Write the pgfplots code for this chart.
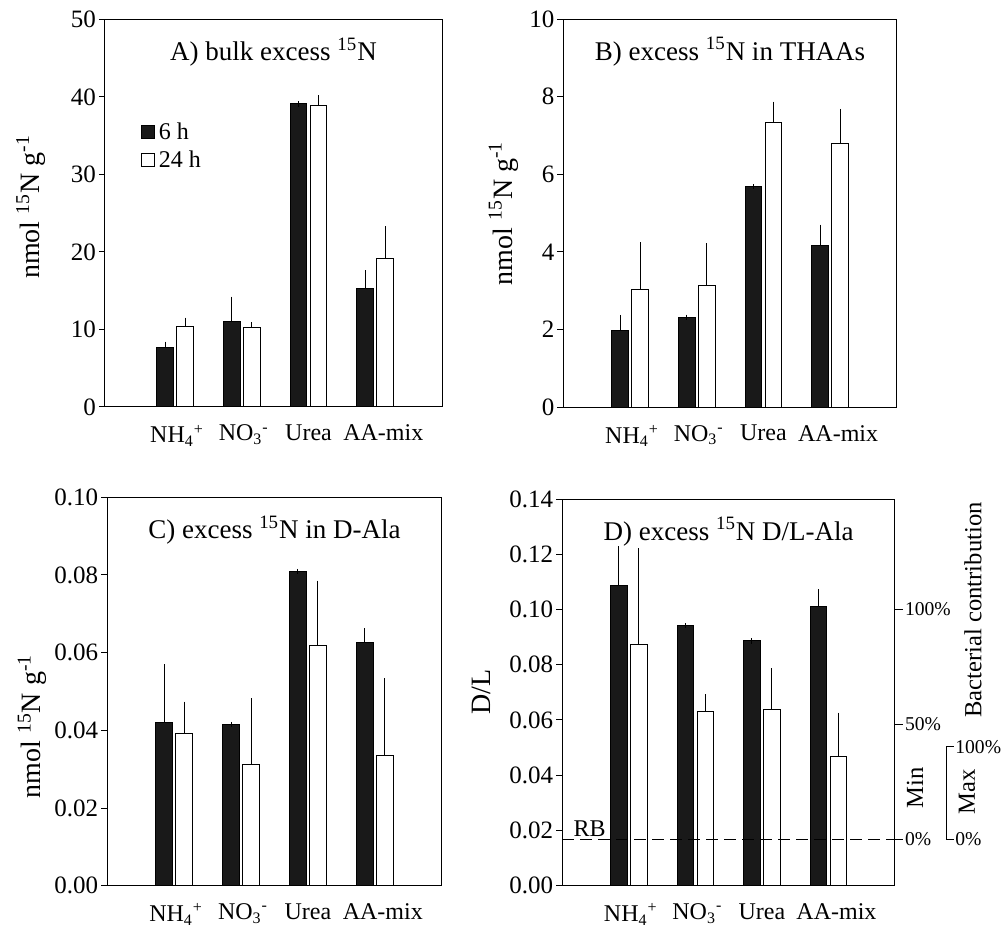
\documentclass[border=0pt]{standalone}
\usepackage{pgfplots}
\pgfplotsset{compat=1.18}
\usepackage{fontspec}
\setmainfont{Liberation Serif}

\newcommand{\nh}{\hspace{2pt}NH\textsubscript{4}\textsuperscript{+}}
\newcommand{\no}{\hspace{2pt}NO\textsubscript{3}\textsuperscript{-}}
\newcommand{\unit}{nmol \textsuperscript{15}N g\textsuperscript{-1}}

\tikzset{
  lab/.style={rotate=90, font=\fontsize{14}{16}\selectfont},
  side/.style={rotate=90, font=\fontsize{12.3}{14}\selectfont},
  pct/.style={font=\fontsize{9.8}{12}\selectfont},
}
\pgfplotsset{
  panel/.style={
    scale only axis,
    ybar, bar width=0.25,
    xmin=-1, xmax=4, ymin=0,
    xtick={0,1,2,3},
    xticklabels={\nh,\no,Urea,\hspace{8pt}AA-mix},
    x tick style={draw=none},
    xticklabel style={yshift=-2.5pt, font=\fontsize{12}{13}\selectfont},
    ytick pos=left, tick align=outside, major tick length=3pt,
    tick style={black, line width=0.5pt},
    yticklabel style={xshift=2pt, font=\fontsize{12.5}{14}\selectfont},
    /pgf/number format/assume math mode=true,
    axis line style={line width=0.5pt},
    clip=false,
    title style={at={(0.5,0.885)}, anchor=center, font=\fontsize{13.5}{15}\selectfont},
    error bars/y dir=plus, error bars/y explicit,
    error bars/error bar style={line width=0.5pt, black},
    error bars/error mark options={black, mark size=1.3pt, line width=0.5pt},
  },
  six/.style={fill=black!90, draw=black, line width=0.5pt, bar shift=-0.15},
  tfour/.style={fill=white, draw=black, line width=0.5pt, bar shift=0.15},
  twodec/.style={yticklabel style={/pgf/number format/fixed, /pgf/number format/fixed zerofill, /pgf/number format/precision=2}},
}

\begin{document}
\begin{tikzpicture}
\useasboundingbox (0,0) rectangle (501pt,464pt);

% A
\begin{axis}[panel, at={(52.5pt,260.5pt)}, anchor=south west,
  width=168.5pt, height=193.75pt, xmin=-1.05, ymax=50, ytick={0,10,...,50},
  title={A) bulk excess \textsuperscript{15}N},
  legend style={at={(0.105,0.745)}, anchor=north west, draw=none, fill=none,
    font=\fontsize{12}{13}\selectfont, row sep=0pt, inner sep=0pt},
  legend cell align=left,
  legend image code/.code={\draw[#1] (-1.5pt,-3.2pt) rectangle (5pt,3.3pt);},
]
\addplot[six] coordinates {(0,7.7) +- (0,0.4) (1,11.0) +- (0,2.9) (2,39.1) +- (0,0) (3,15.3) +- (0,2.0)};
\addplot[tfour] coordinates {(0,10.4) +- (0,0.8) (1,10.2) +- (0,0.4) (2,38.9) +- (0,1.0) (3,19.2) +- (0,3.8)};
\legend{6 h, 24 h}
\node[lab] at ([xshift=-37pt]rel axis cs:0,0.516) {\unit};
\end{axis}

% B
\begin{axis}[panel, at={(281.7pt,260.4pt)}, anchor=south west,
  width=166.7pt, height=194pt, ymax=10, ytick={0,2,...,10},
  title={B) excess \textsuperscript{15}N in THAAs},
]
\addplot[six] coordinates {(0,1.97) +- (0,0.34) (1,2.32) +- (0,0) (2,5.68) +- (0,0) (3,4.17) +- (0,0.47)};
\addplot[tfour] coordinates {(0,3.04) +- (0,1.14) (1,3.14) +- (0,1.02) (2,7.35) +- (0,0.46) (3,6.79) +- (0,0.83)};
\node[lab] at ([xshift=-30pt]rel axis cs:0,0.50) {\unit};
\end{axis}

% C
\begin{axis}[panel, twodec, at={(53.65pt,21.15pt)}, anchor=south west,
  width=167.2pt, height=194.2pt, ymax=0.1, ytick={0,0.02,...,0.1},
  title={C) excess \textsuperscript{15}N in D-Ala},
]
\addplot[six] coordinates {(0,0.0421) +- (0,0.0143) (1,0.0415) +- (0,0) (2,0.0809) +- (0,0) (3,0.0625) +- (0,0.0031)};
\addplot[tfour] coordinates {(0,0.0392) +- (0,0.0075) (1,0.0313) +- (0,0.0163) (2,0.0618) +- (0,0.0161) (3,0.0334) +- (0,0.0193)};
\node[lab] at ([xshift=-37.5pt]rel axis cs:0,0.41) {\unit};
\end{axis}

% D
\begin{axis}[panel, twodec, at={(281.15pt,21.15pt)}, anchor=south west,
  width=166.35pt, height=193.35pt, ymax=0.14, ytick={0,0.02,...,0.14},
  title={D) excess \textsuperscript{15}N D/L-Ala},
]
\addplot[six] coordinates {(0,0.1086) +- (0,0.0134) (1,0.0941) +- (0,0) (2,0.0886) +- (0,0) (3,0.1011) +- (0,0.0053)};
\addplot[tfour] coordinates {(0,0.0874) +- (0,0.0338) (1,0.0631) +- (0,0.0053) (2,0.0638) +- (0,0.0140) (3,0.0469) +- (0,0.0148)};
\node[lab] at ([xshift=-40.5pt]rel axis cs:0,0.50) {D/L};
\end{axis}

% D right-hand scale
\begin{axis}[scale only axis, at={(281.15pt,21.15pt)}, anchor=south west,
  width=166.35pt, height=193.35pt, xmin=-1, xmax=4, ymin=0, ymax=0.14,
  axis x line=none, axis y line*=right, clip=false,
  ytick={0.0168,0.0584,0.1}, yticklabels={0\%,50\%,100\%},
  tick align=outside, major tick length=4pt,
  tick style={black, line width=0.5pt},
  axis line style={line width=0.5pt},
  yticklabel style={xshift=-2.5pt, pct},
]
\addplot[black, line width=0.6pt, dash pattern=on 6pt off 3pt] coordinates {(-1,0.0168) (4,0.0168)};
\node[anchor=south west, inner sep=1pt, font=\fontsize{12}{13}\selectfont] at ([xshift=4.5pt]axis cs:-1,0.0168) {RB};
\draw[line width=0.5pt] ([xshift=29.5pt]axis cs:4,0.0168) -- ([xshift=26pt]axis cs:4,0.0168)
  -- ([xshift=26pt]axis cs:4,0.0503) -- ([xshift=29.5pt]axis cs:4,0.0503);
\node[anchor=west, inner sep=0.5pt, pct] at ([xshift=29.5pt]axis cs:4,0.0503) {100\%};
\node[anchor=west, inner sep=0.5pt, pct] at ([xshift=29.5pt]axis cs:4,0.0168) {0\%};
\node[side] at ([xshift=39pt]rel axis cs:1,0.713) {Bacterial contribution};
\node[side] at ([xshift=10pt]rel axis cs:1,0.253) {Min};
\node[side] at ([xshift=36pt]rel axis cs:1,0.243) {Max};
\end{axis}
\end{tikzpicture}
\end{document}
